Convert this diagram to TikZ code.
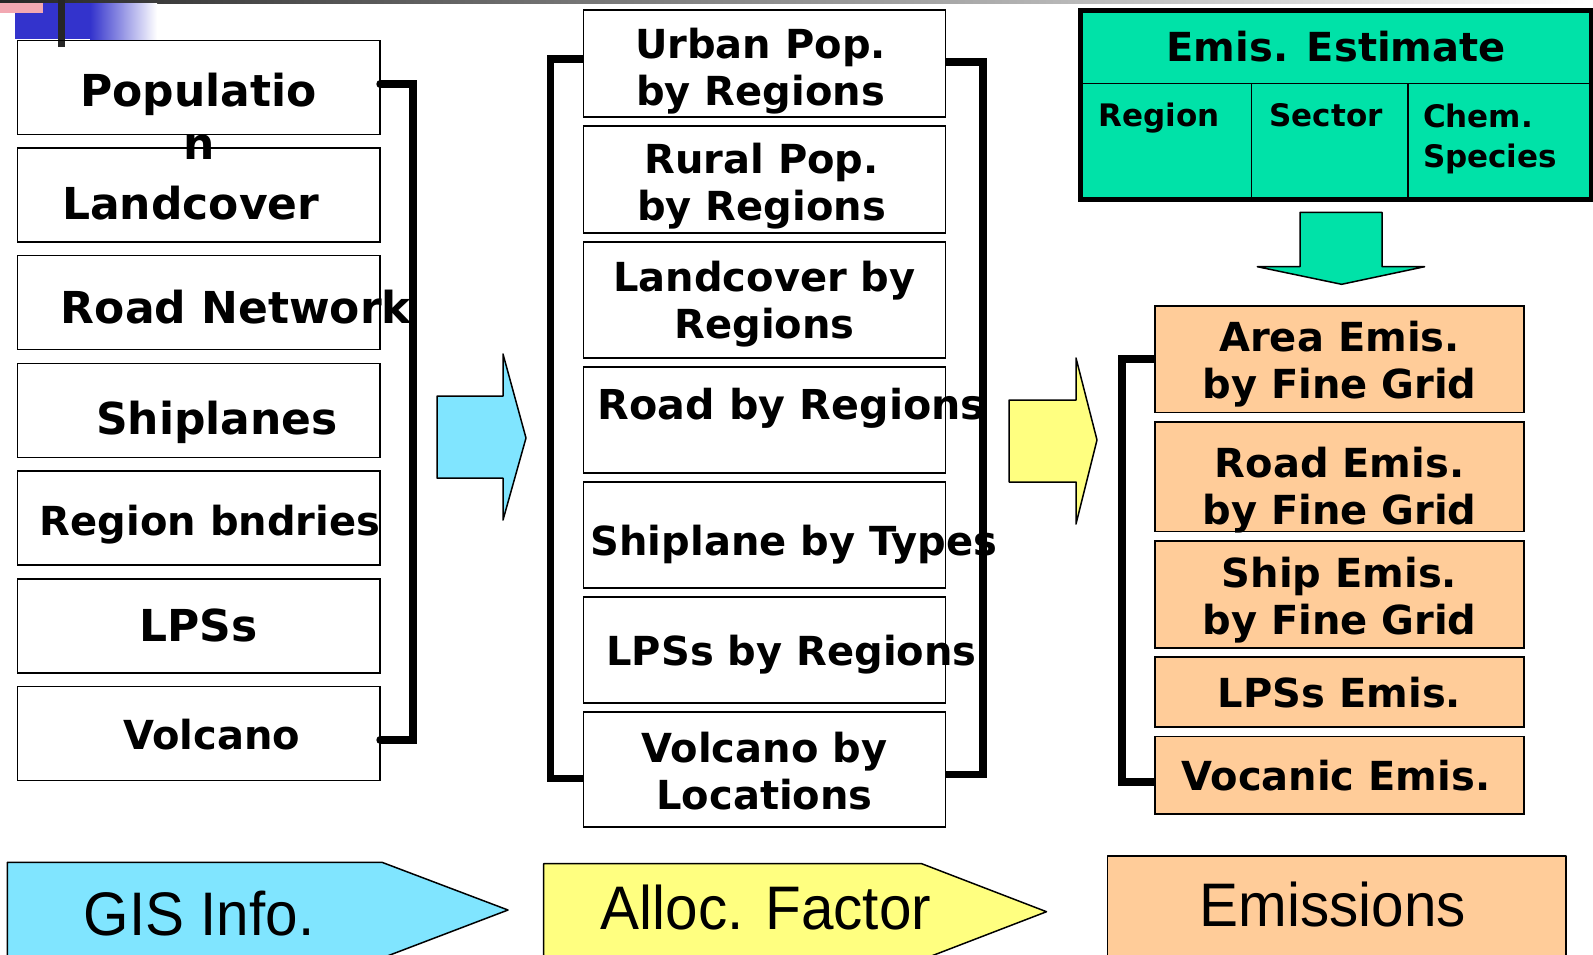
\documentclass[tikz,border=0pt]{standalone}
\usepackage{fontspec}
\setmainfont{DejaVu Sans}
\newfontfamily\tagfont[FakeStretch=0.95]{Liberation Sans}
\usetikzlibrary{positioning,backgrounds}
\definecolor{gisblue}{RGB}{128,229,255}
\definecolor{allocyel}{RGB}{255,255,128}
\definecolor{emisorg}{RGB}{255,204,153}
\definecolor{estgreen}{RGB}{0,226,168}
\definecolor{hdblue}{RGB}{51,51,204}
\definecolor{hdpink}{RGB}{242,168,178}

\begin{document}
\begin{tikzpicture}[x=0.5pt,y=-0.5pt,
  lbox/.style={rectangle,draw=black,line width=0.75pt,minimum width=181.4pt,minimum height=47pt,inner sep=0pt,outer sep=0pt},
  mbox/.style={lbox,fill=white,minimum width=181.2pt,minimum height=53pt},
  ebox/.style={lbox,fill=emisorg,minimum width=184.5pt},
  cell/.style={rectangle,draw=black,line width=0.75pt,fill=estgreen,inner sep=0pt,outer sep=0pt,minimum height=57.85pt},
  ltx/.style={font=\bfseries\fontsize{22}{26.5}\selectfont,align=center,inner sep=0pt},
  mtx/.style={font=\bfseries\fontsize{20}{23.5}\selectfont,align=center,inner sep=0pt},
  ctx/.style={font=\bfseries\fontsize{15.5}{20}\selectfont,align=left,inner sep=0pt},
  tagtx/.style={font=\tagfont\fontsize{30.75}{36}\selectfont,anchor=base,inner sep=0pt},
  brk/.style={line width=3.8pt,line cap=round},
  blk/.style={draw=black,line width=0.75pt,line join=round}]
\useasboundingbox (0,0) rectangle (1593,954);
\clip (0,0) rectangle (1593,954);
\shade[left color=black!85,right color=white] (0,0) rectangle (1593,3);
\fill[hdblue] (15,3) rectangle (90,39);
\shade[left color=hdblue,right color=white] (90,3) rectangle (157,39);
\fill[hdpink] (0,3) rectangle (43,13);
\fill[black!85] (58,0) rectangle (65,47);

\node[lbox,label={[ltx,yshift=-14.25pt]center:Populatio\\n}](pop) at (198.7,87.3){};
\node[lbox,below=6.85pt of pop,label={[ltx,xshift=-4pt,yshift=-4.15pt]center:Landcover}](land){};
\node[lbox,below=6.85pt of land,label={[ltx,xshift=18.65pt,yshift=-2pt]center:Road Network}](road){};
\node[lbox,below=6.85pt of road,label={[ltx,xshift=9.15pt,yshift=-5.8pt]center:Shiplanes}](ship){};
\node[lbox,below=6.85pt of ship,label={[mtx,xshift=5.65pt,yshift=-3.5pt]center:Region bndries}](bnd){};
\node[lbox,below=6.85pt of bnd,label={[ltx]center:LPSs}](lps){};
\node[lbox,below=6.85pt of lps,label={[mtx,xshift=6.65pt,yshift=-0.65pt]center:Volcano}](volc){};

\node[mbox,minimum height=53.5pt,label={[mtx,xshift=-2pt,yshift=-4pt]center:Urban Pop.\\by Regions}](urban) at (764.5,63.5){};
\node[mbox,minimum height=53.5pt,below=4.5pt of urban,label={[mtx,xshift=-1.5pt,yshift=-3.5pt]center:Rural Pop.\\by Regions}](rural){};
\node[mbox,minimum height=58pt,below=4.5pt of rural,label={[mtx,yshift=-2.3pt]center:Landcover by\\Regions}](landr){};
\node[mbox,below=4.5pt of landr,label={[mtx,font=\bfseries\fontsize{20.6}{24}\selectfont,xshift=13.5pt,yshift=6pt]center:Road by Regions}](roadr){};
\node[mbox,below=4.5pt of roadr,label={[mtx,xshift=14.75pt,yshift=-4.9pt]center:Shiplane by Types}](shipt){};
\node[mbox,below=4.5pt of shipt,label={[mtx,xshift=13.5pt,yshift=-2.5pt]center:LPSs by Regions}](lpsr){};
\node[mbox,minimum height=57.5pt,below=4.5pt of lpsr,label={[mtx,yshift=-0.65pt]center:Volcano by\\Locations}](volcl){};

\node[cell,minimum width=255.8pt,minimum height=36.65pt,label={[mtx]center:Emis. Estimate}](esthd) at (1336.2,46.65){};
\node[cell,minimum width=85.5pt,below right=0pt and 0pt of esthd.south west,label={[ctx,xshift=-3.5pt,yshift=11.35pt]center:Region}](creg){};
\node[cell,minimum width=78.25pt,right=0pt of creg,label={[ctx,xshift=-1.75pt,yshift=13pt]center:Sector}](csec){};
\node[cell,minimum width=92pt,right=0pt of csec,label={[ctx,xshift=-4.95pt,yshift=1.35pt]center:Chem.\\Species}](cchem){};
\draw[line width=2.5pt](esthd.north west) rectangle (cchem.south east);
\draw[blk,fill=estgreen](1300,212.3)--(1382,212.3)--(1382,266.7)--(1424.6,266.7)--(1341.6,284.3)--(1257.3,266.7)--(1300,266.7)--cycle;

\node[ebox,minimum height=53.35pt,label={[mtx,yshift=-2.3pt]center:Area Emis.\\by Fine Grid}](areae) at (1339.5,359.15){};
\node[ebox,minimum height=54.9pt,below=4.7pt of areae,label={[mtx,yshift=-6.5pt]center:Road Emis.\\by Fine Grid}](roade){};
\node[ebox,minimum height=53.35pt,below=4.7pt of roade,label={[mtx,yshift=-2.7pt]center:Ship Emis.\\by Fine Grid}](shipe){};
\node[ebox,minimum height=35pt,below=4.7pt of shipe,label={[mtx]center:LPSs Emis.}](lpse){};
\node[ebox,minimum height=38.8pt,below=4.7pt of lpse,label={[mtx,xshift=-1.75pt]center:Vocanic Emis.}](vole){};

\begin{scope}[on background layer]
\draw[brk]([yshift=1.6pt]pop.east)--++(33,0)|-([yshift=-3.2pt]volc.east);
\draw[brk]([yshift=2.25pt]urban.west)--++(-33,0)|-([yshift=-4.5pt]volcl.west);
\draw[brk]([yshift=0.75pt]urban.east)--++(37,0)|-([yshift=-2.5pt]volcl.east);
\draw[brk](areae.west)--++(-33,0)|-([yshift=-3.25pt]vole.west);
\end{scope}

\draw[blk,fill=gisblue](437,396)--(503,396)--(503,354)--(526,438)--(503,520)--(503,478)--(437,478)--cycle;
\draw[blk,fill=allocyel](1009,400)--(1076,400)--(1076,358)--(1097,440)--(1076,524)--(1076,482)--(1009,482)--cycle;

\draw[blk,fill=gisblue](7.3,862.3)--(382,862.3)--(508,910)--(382,958)--(7.3,958)--cycle;
\draw[blk,fill=allocyel](543.6,863.7)--(921.7,863.7)--(1046.5,911.7)--(921.7,959.7)--(543.6,959.7)--cycle;
\draw[blk,fill=emisorg](1107.7,856) rectangle (1566,962);
\node[tagtx](gis) at (199,935.7){GIS Info.};
\node[tagtx](alloc) at (766,929){Alloc. Factor};
\node[tagtx](emis) at (1333,926.7){Emissions};
\end{tikzpicture}
\end{document}
